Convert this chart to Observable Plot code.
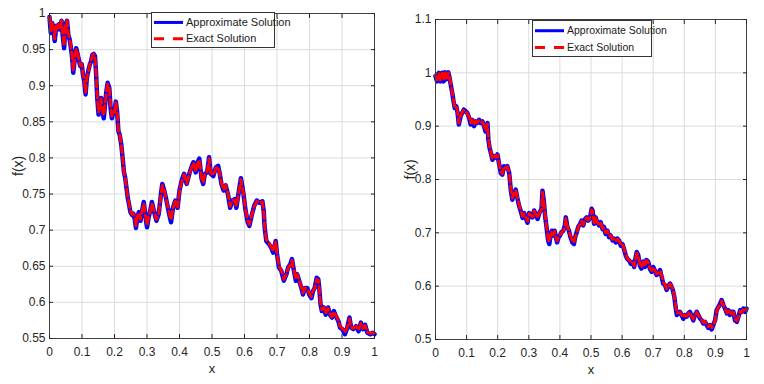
<!DOCTYPE html>
<html><head><meta charset="utf-8">
<script src="https://cdn.jsdelivr.net/npm/d3@7"></script>
<script src="https://cdn.jsdelivr.net/npm/@observablehq/plot@0.6"></script>
<style>
body{margin:0;background:#fff;width:764px;height:384px;overflow:hidden;position:relative;font-family:"Liberation Sans Narrow","Arial Narrow","Liberation Sans",Arial,sans-serif;}
.panel{position:absolute;top:0;}
.legend{position:absolute;overflow:visible;}
</style></head><body>
<div id="left" class="panel" style="left:0px"></div>
<div id="right" class="panel" style="left:390px"></div>
<svg id="legL" class="legend" style="left:151px;top:12px" width="124" height="36"></svg>
<svg id="legR" class="legend" style="left:532px;top:20px" width="120" height="37"></svg>
<script>
const FONT = '"Liberation Sans Narrow","Arial Narrow","Liberation Sans",Arial,sans-serif';

// x ticks shared
const xTicks = [0,0.1,0.2,0.3,0.4,0.5,0.6,0.7,0.8,0.9,1];
const xTickLabels = ["0","0.1","0.2","0.3","0.4","0.5","0.6","0.7","0.8","0.9","1"];

// Left panel
const leftYTicks = [0.55,0.6,0.65,0.7,0.75,0.8,0.85,0.9,0.95,1];
const leftYTickLabels = ["0.55","0.6","0.65","0.7","0.75","0.8","0.85","0.9","0.95","1"];
const leftX = [0,0.004,0.008,0.012,0.016,0.021,0.025,0.029,0.033,0.037,
0.041,0.045,0.049,0.054,0.058,0.062,0.066,0.07,0.073,0.078,
0.082,0.087,0.091,0.095,0.099,0.103,0.107,0.111,0.115,0.12,
0.124,0.128,0.132,0.136,0.14,0.143,0.147,0.151,0.155,0.159,
0.163,0.167,0.171,0.175,0.179,0.184,0.188,0.192,0.196,0.2,
0.204,0.208,0.212,0.216,0.221,0.225,0.229,0.233,0.237,0.241,
0.245,0.249,0.254,0.258,0.262,0.266,0.27,0.275,0.28,0.285,
0.29,0.295,0.3,0.305,0.31,0.315,0.321,0.329,0.336,0.343,
0.347,0.353,0.359,0.366,0.374,0.38,0.387,0.394,0.4,0.407,
0.414,0.422,0.43,0.438,0.443,0.45,0.456,0.461,0.468,0.473,
0.478,0.485,0.491,0.496,0.504,0.512,0.519,0.524,0.529,0.536,
0.542,0.549,0.556,0.562,0.57,0.575,0.583,0.589,0.597,0.603,
0.61,0.615,0.623,0.63,0.638,0.646,0.655,0.659,0.662,0.667,
0.675,0.682,0.688,0.696,0.7,0.706,0.713,0.721,0.729,0.734,
0.741,0.746,0.752,0.758,0.762,0.768,0.775,0.78,0.786,0.793,
0.799,0.806,0.811,0.816,0.822,0.827,0.83,0.834,0.838,0.844,
0.85,0.857,0.863,0.869,0.875,0.881,0.889,0.894,0.901,0.909,
0.916,0.923,0.928,0.935,0.943,0.951,0.958,0.964,0.971,0.978,
0.987,0.995,1];
const leftApprox = [0.995,0.973,0.987,0.98,0.962,0.983,0.978,0.985,0.978,0.99,
0.968,0.952,0.985,0.99,0.97,0.964,0.952,0.938,0.918,0.938,
0.952,0.943,0.934,0.927,0.93,0.915,0.906,0.888,0.911,0.922,
0.929,0.934,0.943,0.944,0.941,0.92,0.883,0.86,0.874,0.883,
0.864,0.855,0.874,0.892,0.904,0.897,0.869,0.855,0.864,0.862,
0.878,0.864,0.837,0.832,0.818,0.8,0.781,0.772,0.758,0.744,
0.735,0.725,0.721,0.723,0.716,0.703,0.718,0.725,0.713,0.727,
0.739,0.72,0.704,0.718,0.727,0.739,0.727,0.713,0.722,0.75,
0.764,0.755,0.743,0.727,0.711,0.731,0.741,0.731,0.755,0.769,
0.778,0.764,0.778,0.789,0.794,0.78,0.794,0.799,0.771,0.764,
0.778,0.78,0.801,0.778,0.775,0.787,0.789,0.778,0.764,0.755,
0.762,0.75,0.731,0.741,0.743,0.731,0.755,0.772,0.75,0.728,
0.711,0.706,0.722,0.734,0.741,0.738,0.74,0.727,0.704,0.685,
0.681,0.676,0.669,0.685,0.667,0.648,0.644,0.63,0.639,0.648,
0.653,0.66,0.644,0.63,0.639,0.63,0.62,0.611,0.62,0.62,
0.611,0.606,0.616,0.62,0.634,0.632,0.62,0.597,0.588,0.593,
0.583,0.593,0.583,0.579,0.588,0.581,0.574,0.565,0.563,0.556,
0.565,0.579,0.565,0.563,0.567,0.56,0.572,0.563,0.569,0.558,
0.556,0.558,0.556];
const leftExact = [0.995,0.976,0.987,0.981,0.965,0.983,0.979,0.985,0.979,0.99,
0.97,0.955,0.984,0.99,0.971,0.965,0.954,0.94,0.921,0.938,
0.951,0.944,0.935,0.928,0.93,0.917,0.907,0.891,0.911,0.921,
0.929,0.935,0.942,0.944,0.94,0.921,0.886,0.863,0.874,0.882,
0.866,0.859,0.874,0.891,0.902,0.897,0.871,0.858,0.864,0.863,
0.877,0.865,0.838,0.833,0.818,0.801,0.781,0.773,0.758,0.745,
0.736,0.726,0.722,0.723,0.718,0.706,0.718,0.724,0.715,0.727,
0.737,0.721,0.707,0.718,0.726,0.737,0.727,0.715,0.722,0.749,
0.762,0.755,0.743,0.728,0.714,0.731,0.74,0.732,0.754,0.768,
0.777,0.765,0.777,0.788,0.793,0.781,0.793,0.797,0.772,0.766,
0.777,0.781,0.799,0.779,0.776,0.786,0.788,0.778,0.765,0.756,
0.762,0.751,0.733,0.741,0.742,0.733,0.754,0.77,0.75,0.729,
0.713,0.708,0.722,0.733,0.74,0.738,0.739,0.727,0.705,0.687,
0.682,0.677,0.671,0.684,0.668,0.65,0.645,0.632,0.639,0.647,
0.652,0.658,0.645,0.632,0.639,0.631,0.621,0.613,0.62,0.619,
0.613,0.608,0.616,0.62,0.632,0.631,0.62,0.598,0.59,0.593,
0.585,0.592,0.584,0.58,0.587,0.582,0.575,0.567,0.564,0.559,
0.565,0.577,0.566,0.564,0.567,0.562,0.571,0.564,0.568,0.559,
0.557,0.558,0.557];

// Right panel
const rightYTicks = [0.5,0.6,0.7,0.8,0.9,1,1.1];
const rightYTickLabels = ["0.5","0.6","0.7","0.8","0.9","1","1.1"];
const rightX = [0,0.005,0.011,0.016,0.022,0.026,0.03,0.035,0.041,0.045,
0.049,0.054,0.058,0.062,0.067,0.071,0.075,0.081,0.086,0.091,
0.097,0.102,0.108,0.113,0.118,0.124,0.129,0.134,0.14,0.145,
0.151,0.156,0.161,0.167,0.17,0.174,0.178,0.183,0.188,0.194,
0.199,0.204,0.21,0.215,0.22,0.226,0.231,0.237,0.242,0.247,
0.253,0.258,0.263,0.269,0.274,0.28,0.285,0.29,0.296,0.301,
0.306,0.312,0.317,0.323,0.328,0.335,0.341,0.344,0.348,0.353,
0.357,0.362,0.366,0.37,0.374,0.378,0.383,0.387,0.391,0.396,
0.4,0.405,0.411,0.416,0.419,0.424,0.429,0.434,0.44,0.445,
0.449,0.454,0.459,0.465,0.47,0.475,0.481,0.486,0.491,0.497,
0.502,0.505,0.51,0.515,0.52,0.526,0.531,0.537,0.542,0.547,
0.553,0.558,0.563,0.569,0.574,0.58,0.585,0.59,0.596,0.601,
0.606,0.612,0.617,0.623,0.628,0.633,0.639,0.643,0.647,0.652,
0.657,0.662,0.668,0.673,0.678,0.684,0.689,0.695,0.7,0.705,
0.711,0.716,0.722,0.727,0.732,0.738,0.743,0.748,0.754,0.759,
0.763,0.768,0.772,0.776,0.781,0.786,0.791,0.797,0.802,0.808,
0.813,0.818,0.824,0.829,0.834,0.84,0.845,0.851,0.856,0.861,
0.867,0.872,0.877,0.883,0.888,0.893,0.899,0.904,0.91,0.915,
0.92,0.926,0.931,0.937,0.942,0.947,0.953,0.958,0.963,0.969,
0.974,0.98,0.985,0.99,0.996,1];
const rightApprox = [0.994,0.984,1,0.984,1,0.984,1.001,0.988,1.001,0.991,
0.978,0.962,0.947,0.934,0.937,0.925,0.903,0.919,0.925,0.931,
0.928,0.925,0.916,0.903,0.912,0.9,0.909,0.906,0.912,0.906,
0.909,0.9,0.89,0.906,0.875,0.859,0.85,0.837,0.844,0.841,
0.847,0.831,0.812,0.809,0.825,0.822,0.825,0.812,0.781,0.762,
0.775,0.781,0.766,0.75,0.741,0.728,0.737,0.728,0.719,0.737,
0.735,0.729,0.742,0.733,0.726,0.739,0.745,0.779,0.761,0.729,
0.711,0.686,0.679,0.695,0.704,0.695,0.704,0.692,0.682,0.692,
0.695,0.701,0.704,0.714,0.729,0.711,0.704,0.692,0.682,0.679,
0.692,0.701,0.711,0.717,0.723,0.714,0.726,0.729,0.723,0.729,
0.745,0.742,0.717,0.729,0.72,0.714,0.72,0.707,0.711,0.698,
0.704,0.692,0.695,0.686,0.689,0.682,0.689,0.686,0.676,0.679,
0.67,0.657,0.651,0.648,0.642,0.645,0.636,0.652,0.664,0.658,
0.639,0.633,0.646,0.636,0.649,0.646,0.633,0.627,0.636,0.63,
0.621,0.624,0.63,0.618,0.605,0.602,0.593,0.599,0.605,0.599,
0.593,0.58,0.561,0.546,0.549,0.552,0.546,0.539,0.546,0.543,
0.549,0.552,0.543,0.536,0.546,0.552,0.546,0.539,0.536,0.53,
0.533,0.527,0.522,0.527,0.519,0.527,0.536,0.555,0.561,0.567,
0.574,0.564,0.558,0.549,0.555,0.546,0.552,0.552,0.536,0.533,
0.543,0.555,0.552,0.558,0.552,0.558];
const rightExact = [0.995,0.987,0.999,0.986,0.999,0.987,1,0.99,1,0.992,
0.979,0.964,0.949,0.936,0.937,0.927,0.906,0.919,0.926,0.93,
0.928,0.924,0.917,0.906,0.912,0.902,0.909,0.907,0.911,0.907,
0.908,0.902,0.892,0.904,0.877,0.861,0.851,0.839,0.844,0.842,
0.846,0.832,0.814,0.811,0.824,0.822,0.824,0.813,0.783,0.765,
0.774,0.78,0.767,0.752,0.742,0.731,0.736,0.73,0.722,0.736,
0.734,0.73,0.741,0.734,0.728,0.738,0.744,0.776,0.76,0.731,
0.713,0.69,0.683,0.695,0.703,0.696,0.703,0.693,0.685,0.692,
0.696,0.7,0.704,0.713,0.727,0.712,0.705,0.694,0.685,0.682,
0.692,0.7,0.71,0.717,0.722,0.715,0.725,0.728,0.724,0.729,
0.743,0.741,0.719,0.728,0.72,0.715,0.719,0.708,0.71,0.7,
0.704,0.694,0.695,0.688,0.689,0.684,0.688,0.686,0.678,0.679,
0.671,0.659,0.652,0.649,0.644,0.645,0.638,0.651,0.662,0.657,
0.641,0.635,0.645,0.637,0.648,0.645,0.635,0.629,0.635,0.631,
0.623,0.624,0.629,0.62,0.607,0.603,0.595,0.599,0.604,0.6,
0.594,0.582,0.564,0.549,0.55,0.551,0.547,0.541,0.546,0.544,
0.548,0.551,0.544,0.538,0.546,0.551,0.546,0.54,0.537,0.532,
0.534,0.528,0.524,0.527,0.522,0.527,0.535,0.553,0.56,0.565,
0.572,0.564,0.559,0.55,0.554,0.547,0.551,0.551,0.538,0.535,
0.543,0.553,0.551,0.556,0.552,0.557];

const seriesNames = ["Approximate Solution","Exact Solution"];
const seriesColors = ["#0000ff","#ff0000"];

function panel({xs, approx, exact, yDomain, yTicks, yLabels, width, mL, mR, mT, mB, fxDx}) {
  const aData = xs.map((x,i)=>({x, y: approx[i]}));
  const eData = xs.map((x,i)=>({x, y: exact[i]}));
  const xFmt = d => xTickLabels[xTicks.indexOf(d)];
  const yFmt = d => yLabels[yTicks.indexOf(d)];
  const blank = () => "";
  return Plot.plot({
    width, height: 384, marginLeft: mL, marginRight: mR, marginTop: mT, marginBottom: mB,
    style: {fontFamily: FONT, fontSize: "12px", color: "#262626", background: "white", overflow: "visible"},
    x: {domain: [0,1]},
    y: {domain: yDomain},
    marks: [
      Plot.gridX(xTicks, {stroke: "#dcdcdc", strokeOpacity: 1, strokeWidth: 1}),
      Plot.gridY(yTicks, {stroke: "#dcdcdc", strokeOpacity: 1, strokeWidth: 1}),
      Plot.line(aData, {x: "x", y: "y", stroke: seriesColors[0], strokeWidth: 4.5}),
      Plot.line(eData, {x: "x", y: "y", stroke: seriesColors[1], strokeWidth: 3, strokeDasharray: "7,4"}),
      Plot.frame({stroke: "#404040", strokeWidth: 1}),
      Plot.axisX(xTicks, {anchor: "bottom", tickSize: 0, tickPadding: 9, tickFormat: xFmt, label: null}),
      Plot.axisX(xTicks, {anchor: "bottom", tickSize: -4, tickFormat: blank, label: null}),
      Plot.axisX(xTicks, {anchor: "top", tickSize: -4, tickFormat: blank, label: null}),
      Plot.axisY(yTicks, {anchor: "left", tickSize: 0, tickPadding: 4, tickFormat: yFmt, label: null}),
      Plot.axisY(yTicks, {anchor: "left", tickSize: -4, tickFormat: blank, label: null}),
      Plot.axisY(yTicks, {anchor: "right", tickSize: -4, tickFormat: blank, label: null}),
      Plot.text(["x"], {frameAnchor: "bottom", dy: 34, fontSize: 13, fill: "#262626"}),
      Plot.text(["f(x)"], {frameAnchor: "left", rotate: -90, dx: fxDx, fontSize: 14, fill: "#262626"})
    ]
  });
}

document.getElementById("left").append(panel({
  xs: leftX, approx: leftApprox, exact: leftExact, yDomain: [0.55,1],
  yTicks: leftYTicks, yLabels: leftYTickLabels,
  width: 380, mL: 49, mR: 6, mT: 13, mB: 46, fxDx: -31
}));
document.getElementById("right").append(panel({
  xs: rightX, approx: rightApprox, exact: rightExact, yDomain: [0.5,1.1],
  yTicks: rightYTicks, yLabels: rightYTickLabels,
  width: 374, mL: 45, mR: 18, mT: 19, mB: 45, fxDx: -25
}));

function legend(id, w, h, fs) {
  const svg = d3.select("#" + id);
  svg.append("rect").attr("x", 0.5).attr("y", 0.5).attr("width", w - 1).attr("height", h - 1)
    .attr("fill", "white").attr("stroke", "#333").attr("stroke-width", 1);
  const rows = [h * 0.29, h * 0.74];
  seriesNames.forEach((name, i) => {
    const ln = svg.append("line").attr("x1", 3).attr("x2", 32).attr("y1", rows[i]).attr("y2", rows[i])
      .attr("stroke", seriesColors[i]).attr("stroke-width", 3);
    if (i === 1) ln.attr("stroke-dasharray", "10,9");
    svg.append("text").attr("x", 35).attr("y", rows[i]).attr("dy", "0.35em")
      .attr("font-family", FONT).attr("font-size", fs).attr("fill", "#1a1a1a").text(name);
  });
}
legend("legL", 124, 36, 11);
legend("legR", 120, 37, 10.5);
</script>
</body></html>
